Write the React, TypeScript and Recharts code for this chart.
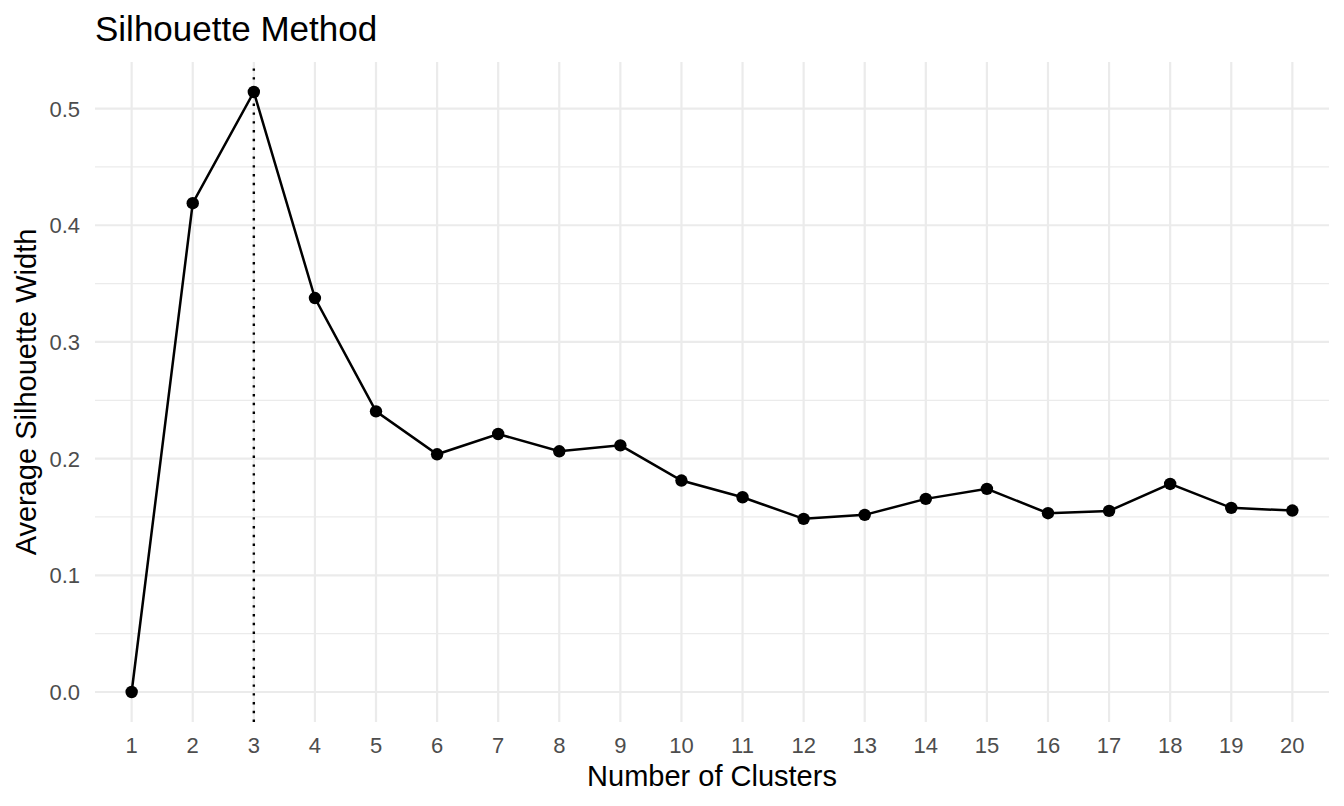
import { LineChart, Line, XAxis, YAxis, ReferenceLine } from 'recharts'

// k = number of clusters, avg silhouette width
const clusters = [1, 2, 3, 4, 5, 6, 7, 8, 9, 10, 11, 12, 13, 14, 15, 16, 17, 18, 19, 20]
const silhouette = [
  0, 0.4189, 0.5142, 0.3376, 0.2405, 0.2037, 0.2211, 0.2063, 0.2114, 0.1812,
  0.1669, 0.1484, 0.1518, 0.1655, 0.1741, 0.1532, 0.1552, 0.1783, 0.1578, 0.1555,
]
const optimalK = 3
const yTicks = [0, 0.1, 0.2, 0.3, 0.4, 0.5]
const yMinor = [0.05, 0.15, 0.25, 0.35, 0.45]

const W = 1344
const H = 806
const PLOT_LEFT = 95
const PLOT_RIGHT = 1329
const PLOT_TOP = 62
const PLOT_BOTTOM = 722
const FONT = '"Liberation Sans", Arial, Helvetica, sans-serif'
const TICK_COLOR = '#4D4D4D'
const GRID = '#EBEBEB'

const data = clusters.map((k, i) => ({ k, width: silhouette[i] }))

// ggplot-style 5% expansion on y, 0.6 units on a discrete x
const yMax = Math.max(...silhouette)
const yPad = yMax * 0.05

function XTick({ x, payload }: any) {
  return (
    <text x={x} y={PLOT_BOTTOM + 31} textAnchor="middle" fill={TICK_COLOR} fontSize={22} fontFamily={FONT}>
      {payload.value}
    </text>
  )
}

function YTick({ y, payload }: any) {
  return (
    <text x={80} y={y + 8} textAnchor="end" fill={TICK_COLOR} fontSize={22} fontFamily={FONT}>
      {Number(payload.value).toFixed(1)}
    </text>
  )
}

export default function App() {
  return (
    <div style={{ position: 'absolute', left: 0, top: 0, width: W, height: H, background: '#fff' }}>
      <LineChart
        width={W}
        height={H}
        data={data}
        margin={{ top: PLOT_TOP, right: W - PLOT_RIGHT, left: 0, bottom: 0 }}
      >
        {/* grid drawn as reference lines so nothing lands on the panel edges */}
        {yMinor.map((v) => (
          <ReferenceLine key={`m${v}`} y={v} stroke={GRID} strokeWidth={1.2} />
        ))}
        {yTicks.map((v) => (
          <ReferenceLine key={`y${v}`} y={v} stroke={GRID} strokeWidth={2.2} />
        ))}
        {clusters.map((k) => (
          <ReferenceLine key={`x${k}`} x={k} stroke={GRID} strokeWidth={2.2} />
        ))}
        <XAxis
          dataKey="k"
          type="number"
          domain={[0.4, 20.6]}
          ticks={clusters}
          interval={0}
          axisLine={false}
          tickLine={false}
          height={H - PLOT_BOTTOM}
          tick={<XTick />}
        />
        <YAxis
          type="number"
          domain={[-yPad, yMax + yPad]}
          ticks={yTicks}
          axisLine={false}
          tickLine={false}
          width={PLOT_LEFT}
          tick={<YTick />}
          allowDataOverflow
        />
        <ReferenceLine x={optimalK} stroke="#000" strokeWidth={2.4} strokeDasharray="2.4 6.4" />
        <Line
          type="linear"
          dataKey="width"
          stroke="#000"
          strokeWidth={2.5}
          dot={{ r: 6.2, fill: '#000', stroke: 'none' }}
          activeDot={false}
          isAnimationActive={false}
        />
      </LineChart>
      <svg
        width={W}
        height={H}
        style={{ position: 'absolute', left: 0, top: 0, pointerEvents: 'none' }}
      >
        <text x={PLOT_LEFT} y={41} fontSize={35} fontFamily={FONT} fill="#000">
          Silhouette Method
        </text>
        <text
          x={(PLOT_LEFT + PLOT_RIGHT) / 2}
          y={786}
          textAnchor="middle"
          fontSize={29}
          fontFamily={FONT}
          fill="#000"
        >
          Number of Clusters
        </text>
        <text
          transform={`translate(36, ${(PLOT_TOP + PLOT_BOTTOM) / 2}) rotate(-90)`}
          textAnchor="middle"
          fontSize={29}
          fontFamily={FONT}
          fill="#000"
        >
          Average Silhouette Width
        </text>
      </svg>
    </div>
  )
}
